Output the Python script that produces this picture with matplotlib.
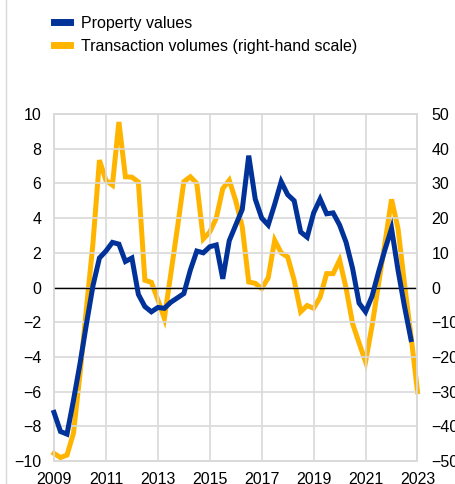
import matplotlib
matplotlib.use("Agg")
from matplotlib import pyplot as plt
from matplotlib.lines import Line2D
import numpy as np

plt.rcParams["font.family"] = ["Liberation Sans", "DejaVu Sans"]

# quarterly observations, 2009 Q1 onwards
start_year = 2009
property_values = [
    -7.2, -8.3, -8.45, -6.5, -4.4, -2.1, 0.1, 1.7,
    2.1, 2.6, 2.5, 1.5, 1.7, -0.4, -1.1, -1.4,
    -1.15, -1.2, -0.85, -0.6, -0.35, 1.0, 2.1, 2.0,
    2.35, 2.45, 0.5, 2.7, 3.6, 4.5, 7.6, 5.1,
    4.0, 3.6, 4.8, 6.1, 5.35, 5.0, 3.2, 2.9,
    4.3, 5.1, 4.25, 4.3, 3.6, 2.6, 1.1, -0.9,
    -1.4, -0.5, 0.9, 2.2, 3.4, 1.0, -1.1, -3.0,
]
transaction_volumes = [
    -47.8, -49.0, -48.3, -42.0, -25.0, -6.0, 12.7, 36.7,
    30.9, 29.5, 47.7, 31.9, 31.8, 30.4, 2.1, 1.5,
    -3.5, -8.9, 4.0, 17.0, 30.5, 31.9, 30.0, 14.0,
    16.0, 20.0, 28.5, 30.9, 25.0, 17.5, 1.6, 1.2,
    -0.3, 2.8, 13.6, 10.0, 8.8, 2.1, -7.0, -5.2,
    -6.0, -2.8, 4.0, 4.0, 7.9, -0.2, -10.4, -16.0,
    -21.4, -11.0, 1.0, 13.0, 25.4, 17.0, 1.0, -14.0,
    -30.0,
]
labels = ["Property values", "Transaction volumes (right-hand scale)"]
year_ticks = [2009, 2011, 2013, 2015, 2017, 2019, 2021, 2023]

blue = "#003299"
yellow = "#ffb400"
grid_col = "#d9d9d9"
fs = 11.5

x_pv = start_year + np.arange(len(property_values)) / 4
x_tv = start_year + np.arange(len(transaction_volumes)) / 4

fig = plt.figure(figsize=(4.56, 4.84), dpi=100)
ax = fig.add_axes([54 / 456, 23 / 484, 363.5 / 456, 347 / 484])
ax2 = ax.twinx()

ax.set_xlim(2009, 2023)
ax.set_ylim(-10, 10)
ax.set_yticks(np.arange(-10, 11, 2))
ax.set_xticks(year_ticks)
ax2.set_ylim(-50, 50)
ax2.set_yticks(np.arange(-50, 51, 10))

ax.grid(True, color=grid_col, linewidth=1.2)
ax.set_axisbelow(True)
for a in (ax, ax2):
    for s in a.spines.values():
        s.set_color(grid_col)
        s.set_linewidth(1.2)
    a.tick_params(length=0, labelsize=fs, colors="black")
ax.tick_params(axis="y", pad=9)
ax.tick_params(axis="x", pad=8)
ax2.tick_params(axis="y", pad=10.2)

ax.axhline(0, color="black", linewidth=1.0, zorder=2)

# yellow is drawn on the secondary axis, blue must stay on top of it
ax2.plot(x_tv, transaction_volumes, color=yellow, linewidth=3.6,
         solid_joinstyle="miter", zorder=3, clip_on=False)
ax.set_zorder(ax2.get_zorder() + 1)
ax.patch.set_visible(False)
ax.plot(x_pv, property_values, color=blue, linewidth=3.6,
        solid_joinstyle="miter", zorder=3, clip_on=False)

handles = [Line2D([], [], color=blue, linewidth=5),
           Line2D([], [], color=yellow, linewidth=5)]
fig.legend(handles, labels, loc="upper left", bbox_to_anchor=(54 / 456, 1 - 16 / 484),
           frameon=False, fontsize=fs, handlelength=1.0, handletextpad=0.7,
           labelspacing=0.5, borderaxespad=0, borderpad=0)

fig.add_artist(Line2D([6 / 456, 6 / 456], [0, 1], color=grid_col, linewidth=1.0))

fig.savefig("out.png", dpi=100)
